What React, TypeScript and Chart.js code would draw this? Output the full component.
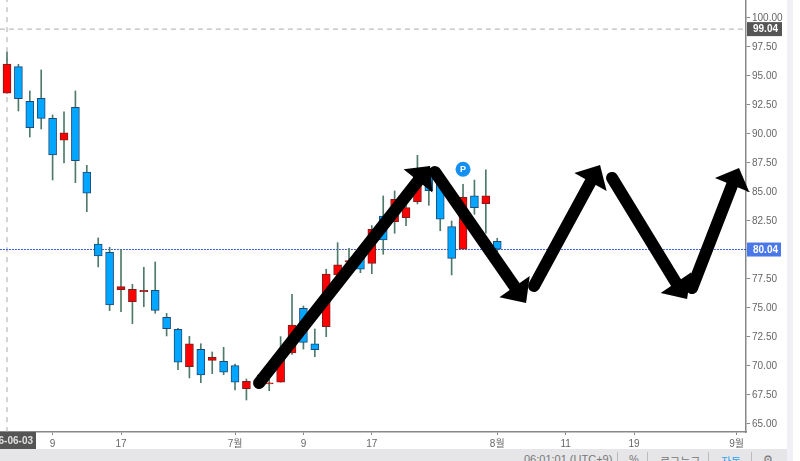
import React, { useEffect, useRef } from "react";
import { Chart, registerables } from "chart.js";

Chart.register(...registerables);

const opens = [93.51,95.80,92.82,93.08,91.35,89.46,92.30,86.72,80.52,79.80,76.58,75.54,76.40,76.53,74.20,73.16,69.94,71.44,70.49,70.41,70.03,68.04,68.36,68.45,68.60,71.12,74.98,71.90,73.39,77.85,78.97,79.57,78.85,82.93,82.44,82.78,84.16,87.04,85.75,82.01,80.06,84.66,84.00,80.75];
const closes = [96.03,93.04,90.54,91.35,88.19,90.09,87.70,84.89,79.48,75.26,76.84,76.61,76.53,74.80,73.22,70.32,71.90,69.22,70.75,69.46,68.60,68.68,68.79,68.54,71.12,73.53,72.04,71.40,77.93,78.71,79.08,78.34,81.79,80.86,84.37,83.65,86.32,85.11,82.65,79.28,84.54,83.65,84.66,80.06];
const highs = [97.07,96.01,93.71,95.52,91.64,91.90,93.71,87.30,81.04,80.23,80.06,77.04,78.51,78.97,74.54,73.25,72.56,71.92,71.21,71.61,70.17,68.88,69.22,68.90,72.53,76.18,75.17,73.19,78.34,80.63,80.15,79.80,82.10,84.66,85.09,84.31,88.16,87.20,86.50,82.50,85.66,86.03,86.90,81.01];
const lows = [93.51,91.98,89.74,90.43,86.03,87.50,85.80,83.30,78.54,74.77,74.68,73.65,75.11,74.54,72.59,69.68,68.97,68.56,69.34,69.25,67.93,67.07,68.36,67.87,68.60,71.00,71.46,70.80,72.53,77.85,77.85,78.04,77.96,79.63,81.44,82.10,83.97,83.85,81.66,77.85,80.06,83.08,81.46,79.74];

const yTicks = [65,67.5,70,72.5,75,77.5,80,82.5,85,87.5,90,92.5,95,97.5,100];
const xTickPositions = [4,10,20,26,32,43,49,55,64];
const xTickLabels = ["9","17","7월","9","17","8월","11","19","9월"];
const dateTag = "26-06-03";
const cursorLevel = 99.04;
const lastPrice = 80.04;
const signalPoint = { x: 40, y: 86.96 };
const signalText = "P";

const arrowStarts = [[22.11,68.53],[37.54,86.72],[46.23,76.90],[53.07,86.21],[60.09,76.72]];
const arrowNecks = [[36.05,85.95],[44.52,76.85],[51.18,85.86],[58.68,77.19],[63.60,85.60]];
const arrowTips = [[37.11,87.24],[45.53,75.43],[52.02,87.33],[59.65,75.78],[64.21,87.07]];

const FONT = '"Liberation Sans","Noto Sans CJK KR",sans-serif';
const BLUE = "#00a6ff";
const RED = "#ff0000";

const overlayPlugin = {
  id: "overlay",
  afterDatasetsDraw(chart: any) {
    const { ctx, scales } = chart;
    const x = scales.x;
    const y = scales.y;
    ctx.save();
    // arrow heads
    ctx.fillStyle = "#000";
    arrowTips.forEach((tip, i) => {
      const tx = x.getPixelForValue(tip[0]);
      const ty = y.getPixelForValue(tip[1]);
      const nx = x.getPixelForValue(arrowNecks[i][0]);
      const ny = y.getPixelForValue(arrowNecks[i][1]);
      const len = Math.hypot(tx - nx, ty - ny) || 1;
      const px = -(ty - ny) / len;
      const py = (tx - nx) / len;
      ctx.beginPath();
      ctx.moveTo(tx, ty);
      ctx.lineTo(nx + px * 18.5, ny + py * 18.5);
      ctx.lineTo(nx - px * 18.5, ny - py * 18.5);
      ctx.closePath();
      ctx.fill();
    });
    // signal letter
    ctx.fillStyle = "#fff";
    ctx.font = "bold 9px " + FONT;
    ctx.textAlign = "center";
    ctx.textBaseline = "middle";
    ctx.fillText(signalText, x.getPixelForValue(signalPoint.x), y.getPixelForValue(signalPoint.y) + 0.5);
    ctx.restore();
  },
  afterDraw(chart: any) {
    const { ctx, scales } = chart;
    const x = scales.x;
    const y = scales.y;
    ctx.save();
    ctx.textBaseline = "middle";
    ctx.font = "bold 10px " + FONT;
    const tag = (value: number, bg: string, w: number) => {
      const py = y.getPixelForValue(value);
      ctx.fillStyle = bg;
      ctx.fillRect(747, py - 7, w, 14);
      ctx.fillStyle = "#fff";
      ctx.textAlign = "left";
      ctx.fillText(value.toFixed(2), 753, py + 0.5);
    };
    tag(cursorLevel, "#555555", 35);
    tag(lastPrice, "#4a78e8", 34);
    const dx = x.getPixelForValue(0);
    ctx.fillStyle = "#555555";
    ctx.fillRect(dx - 29, 432, 58, 17);
    ctx.fillStyle = "#e0e0e0";
    ctx.font = "bold 10px " + FONT;
    ctx.textAlign = "right";
    ctx.fillText(dateTag, dx + 26, 441.5);
    ctx.restore();
  },
};

const footerItems = [
  { text: "06:01:01 (UTC+9)", left: 524, color: "#777" },
  { text: "%", left: 629, color: "#777" },
  { text: "로그눅금", left: 660, color: "#777" },
  { text: "자동", left: 721, color: "#2ea3e8" },
  { text: "⚙", left: 763, color: "#777" },
];
const footerSeparators = [617, 647, 708, 751];

const clearPadding = (s: any) => {
  s.paddingLeft = 0;
  s.paddingRight = 0;
  s.paddingTop = 0;
  s.paddingBottom = 0;
};

export default function App() {
  const ref = useRef<HTMLCanvasElement>(null);
  useEffect(() => {
    const idx = opens.map((_, i) => i);
    const isUp = (i: number) => closes[i] >= opens[i];
    const chart = new Chart(ref.current as HTMLCanvasElement, {
      type: "bar",
      plugins: [overlayPlugin],
      data: {
        datasets: [
          {
            type: "line",
            label: "last",
            data: [{ x: -0.62, y: lastPrice }, { x: 64.82, y: lastPrice }],
            borderColor: "#3a5fd0",
            borderWidth: 1,
            borderDash: [2, 1],
            pointRadius: 0,
            order: 6,
          },
          {
            type: "line",
            label: "cursorY",
            data: [{ x: -0.62, y: cursorLevel }, { x: 64.82, y: cursorLevel }],
            borderColor: "#aaaaaa",
            borderWidth: 1,
            borderDash: [5, 4],
            pointRadius: 0,
            order: 6,
          },
          {
            type: "line",
            label: "cursorX",
            data: [{ x: 0, y: 64.3 }, { x: 0, y: 101.56 }],
            borderColor: "#aaaaaa",
            borderWidth: 1,
            borderDash: [5, 5],
            pointRadius: 0,
            order: 6,
          },
          {
            type: "bar",
            label: "wick",
            data: idx.map((i) => ({ x: i, y: [lows[i], highs[i]] })),
            backgroundColor: "#4f7a68",
            borderWidth: 0,
            barThickness: 1,
            grouped: false,
            order: 5,
          },
          {
            type: "bar",
            label: "body",
            data: idx.map((i) => ({ x: i, y: [opens[i], closes[i]] })),
            backgroundColor: idx.map((i) => (isUp(i) ? RED : BLUE)),
            borderColor: idx.map((i) => (isUp(i) ? "#7a2020" : "#1f4a78")),
            borderWidth: 1,
            borderSkipped: false,
            barThickness: 8,
            grouped: false,
            order: 4,
          },
          {
            type: "line",
            label: "signal",
            data: [signalPoint],
            showLine: false,
            pointRadius: 7.5,
            pointBackgroundColor: "#1490f5",
            pointBorderWidth: 0,
            order: 3,
          },
          ...arrowStarts.map((s, i) => ({
            type: "line" as const,
            label: "arrow" + i,
            data: [{ x: s[0], y: s[1] }, { x: arrowNecks[i][0], y: arrowNecks[i][1] }],
            borderColor: "#000",
            borderWidth: 12,
            borderCapStyle: "round" as const,
            pointRadius: 0,
            order: 1,
          })),
        ],
      } as any,
      options: {
        responsive: false,
        animation: false,
        events: [],
        layout: { padding: 0, autoPadding: false },
        plugins: { legend: { display: false }, tooltip: { enabled: false }, title: { display: false } },
        scales: {
          x: {
            type: "linear",
            min: -0.614,
            max: 64.82,
            offset: false,
            border: { color: "#888888", width: 1.5 },
            grid: { offset: false, drawOnChartArea: false, drawTicks: true, tickLength: 3, tickColor: "#888888" },
            afterBuildTicks: (s: any) => {
              s.ticks = xTickPositions.map((value) => ({ value }));
            },
            afterFit: (s: any) => {
              s.height = 29;
              clearPadding(s);
            },
            ticks: {
              autoSkip: false,
              maxRotation: 0,
              color: "#666666",
              padding: 3,
              font: { family: FONT, size: 10 },
              callback: (v: any) => xTickLabels[xTickPositions.indexOf(Number(v))] ?? "",
            },
          },
          y: {
            type: "linear",
            position: "right",
            min: 64.31,
            max: 101.55,
            border: { color: "#888888", width: 1.5 },
            grid: { drawOnChartArea: false, drawTicks: true, tickLength: 4, tickColor: "#888888" },
            afterBuildTicks: (s: any) => {
              s.ticks = yTicks.map((value) => ({ value }));
            },
            afterFit: (s: any) => {
              s.width = 54;
              clearPadding(s);
            },
            ticks: {
              autoSkip: false,
              color: "#666666",
              padding: 2,
              font: { family: FONT, size: 10 },
              callback: (v: any) => Number(v).toFixed(2),
            },
          },
        },
      } as any,
    });
    return () => chart.destroy();
  }, []);

  return (
    <div style={{ position: "fixed", left: 0, top: 0, width: 800, height: 461, overflow: "hidden", background: "#fff" }}>
      <canvas ref={ref} width={800} height={461} style={{ position: "absolute", left: 0, top: 0, display: "block" }} />
      <div style={{ position: "absolute", left: 787, top: 0, width: 6, height: 461, background: "#f0f0f6" }} />
      <div style={{ position: "absolute", left: 0, top: 449, width: 787, height: 12, background: "#e6e6e8", overflow: "hidden" }}>
        {footerItems.map((f) => (
          <span
            key={f.text}
            style={{ position: "absolute", left: f.left, top: 4, font: '11px "Liberation Sans","Noto Sans CJK KR",sans-serif', color: f.color, whiteSpace: "nowrap" }}
          >
            {f.text}
          </span>
        ))}
        {footerSeparators.map((left) => (
          <div key={left} style={{ position: "absolute", left, top: 3, width: 1, height: 9, background: "#bbb" }} />
        ))}
      </div>
    </div>
  );
}
